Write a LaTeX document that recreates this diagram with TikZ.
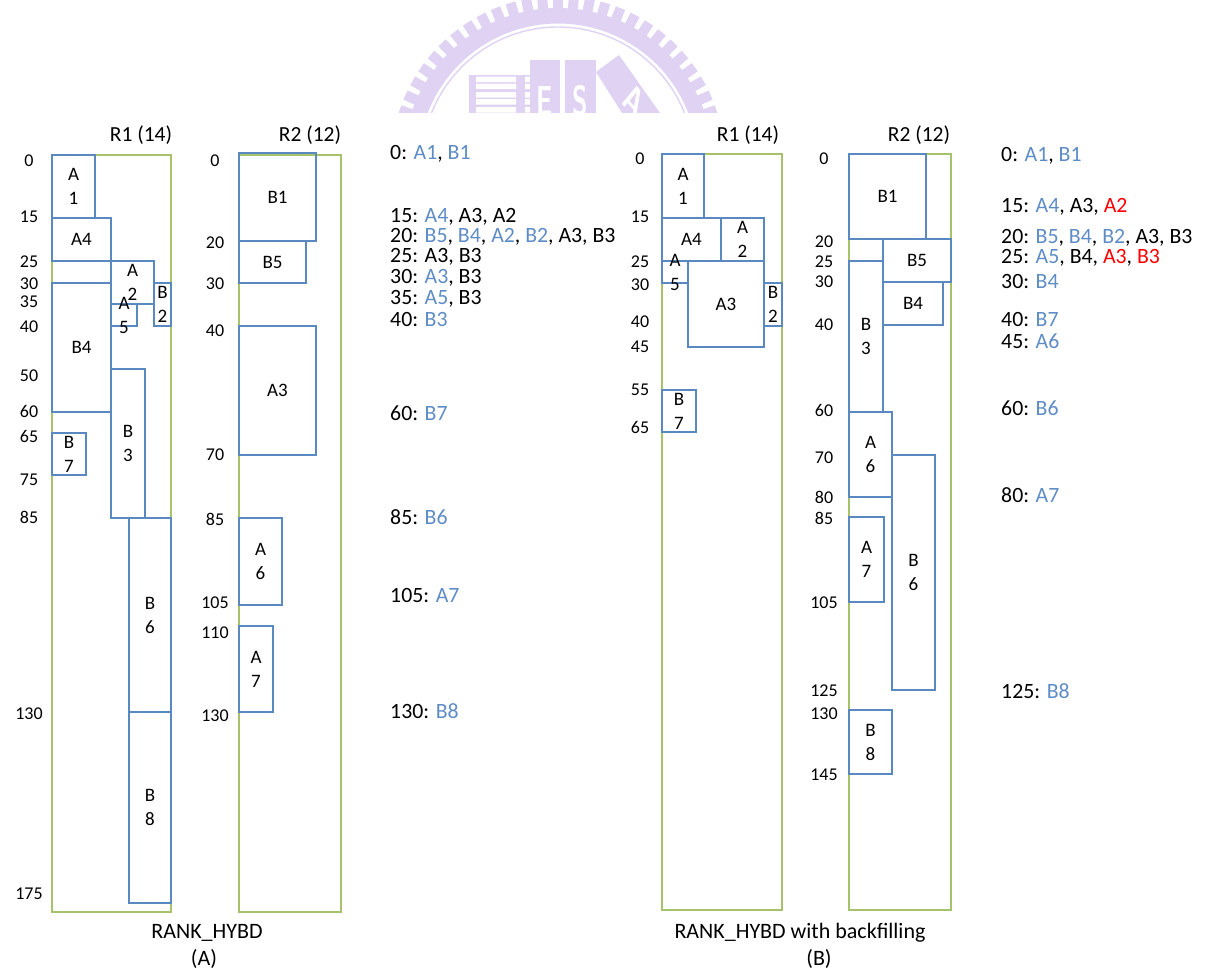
\documentclass[tikz,border=0pt]{standalone}
\usepackage{fontspec}
\setmainfont{Carlito}
\definecolor{jobblue}{HTML}{5A89C2}
\definecolor{textblue}{HTML}{5F8CC6}
\definecolor{hostgreen}{HTML}{A6C36B}
\definecolor{stamp}{HTML}{DFD2F3}
\newcommand{\done}[1]{\textcolor{textblue}{#1}}
\newcommand{\moved}[1]{\textcolor{red}{#1}}
\begin{document}
\begin{tikzpicture}[x=1pt, y=-1pt, host/.style={draw=hostgreen, line width=1.1pt, anchor=north west, inner sep=0, outer sep=0, minimum width=#1}, host/.default=102, job/.style={draw=jobblue, line width=1.1pt, anchor=north west, inner sep=0, outer sep=0, align=center, font=\fontsize{19}{24}\selectfont}, tick/.style={font=\fontsize{18}{20}\selectfont, inner sep=0}, title/.style={font=\fontsize{21.5}{24}\selectfont, inner sep=0}, queue/.style={anchor=west, font=\fontsize{21.8}{22}\selectfont, inner sep=0, yshift=-1pt}, caption/.style={font=\fontsize{22}{24}\selectfont, inner sep=0, yshift=-1.5pt}, letter/.style={text=white, font=\fontsize{42}{42}\selectfont\bfseries\sffamily, inner sep=0, transform shape, xscale=0.6}]

	\useasboundingbox (0,0) rectangle (1208,978);

	\begin{scope}
		\clip (380,0) rectangle (740,112.5);

		\draw[stamp, line width=15.5pt] (558,163) circle (147.25);

		\draw[stamp, line width=1.4pt] (558,163) circle (136);

		\foreach \a in {2,7.5,...,178}
			\draw[stamp, line width=10pt] ({558+150*cos(\a)},{163-150*sin(\a)}) -- ({558+167*cos(\a)},{163-167*sin(\a)});

		\fill[stamp] (469,75) rectangle (530,113);

		\foreach \y in {76.5,83.5,92,99,107}
			\fill[white] (476,\y) rectangle (516,\y+5.5) (525,\y) rectangle (530,\y+5.5);

		\fill[stamp] (530,60) rectangle (560,113);

		\fill[stamp] (565,60) rectangle (596,113);

		\fill[stamp] (596,72) -- (619,55) -- (660,113) -- (622,113) -- cycle;

		\node[letter, anchor=center] (stampe) at (545,101) {E};

		\node[letter, anchor=center] (stamps) at (580,101) {S};

		\node[letter, rotate=-35] (stampa) at (634,100) {A};
	\end{scope}

	\node[title] (r1a) at (141,135) {R1 (14)};

	\node[title] (r2a) at (310,135) {R2 (12)};

	\node[title] (r1b) at (748,135) {R1 (14)};

	\node[title] (r2b) at (919,135) {R2 (12)};

	\node[host=119, minimum height=757] (hosta1) at (52,155) {};

	\node[host, minimum height=757] (hosta2) at (239,155) {};

	\node[host=120, minimum height=756] (hostb1) at (662,154) {};

	\node[host, minimum height=756] (hostb2) at (849,154) {};

	\node[job, minimum width=43, minimum height=63] (a1) at (52,155) {A\\1};

	\node[job, minimum width=59, minimum height=43] (a4) at (52,218) {A4};

	\node[job, minimum width=43, minimum height=43] (a2) at (111,261) {A\\2};

	\node[job, minimum width=26, minimum height=22, label={[job, draw=none, anchor=center]center:{A\\5}}] (a5) at (111,304) {};

	\node[job, minimum width=17, minimum height=43] (b2) at (154,283) {B\\2};

	\node[job, minimum width=59, minimum height=129] (b4) at (52,283) {B4};

	\node[job, minimum width=34, minimum height=149] (b3) at (111,369) {B\\3};

	\node[job, minimum width=34, minimum height=42] (b7) at (52,433) {B\\7};

	\node[job, minimum width=42, minimum height=194] (b6) at (129,518) {B\\6};

	\node[job, minimum width=42, minimum height=191] (b8) at (129,712) {B\\8};

	\node[job, minimum width=77, minimum height=88] (b1) at (239,153) {B1};

	\node[job, minimum width=67, minimum height=42] (b5) at (239,241) {B5};

	\node[job, minimum width=77, minimum height=129] (a3) at (239,326) {A3};

	\node[job, minimum width=43, minimum height=87] (a6) at (239,518) {A\\6};

	\node[job, minimum width=34, minimum height=86] (a7) at (239,626) {A\\7};

	\node[job, minimum width=42, minimum height=64] (ba1) at (662,154) {A\\1};

	\node[job, minimum width=59, minimum height=43] (ba4) at (662,218) {A4};

	\node[job, minimum width=43, minimum height=43] (ba2) at (721,218) {A\\2};

	\node[job, minimum width=26, minimum height=22, label={[job, draw=none, anchor=center]center:{A\\5}}] (ba5) at (662,261) {};

	\node[job, minimum width=76, minimum height=86] (ba3) at (688,261) {A3};

	\node[job, minimum width=18, minimum height=43] (bb2) at (764,283) {B\\2};

	\node[job, minimum width=34, minimum height=42] (bb7) at (662,390) {B\\7};

	\node[job, minimum width=77, minimum height=85] (bb1) at (849,154) {B1};

	\node[job, minimum width=68, minimum height=43] (bb5) at (883,239) {B5};

	\node[job, minimum width=34, minimum height=151] (bb3) at (849,261) {B\\3};

	\node[job, minimum width=60, minimum height=43] (bb4) at (883,282) {B4};

	\node[job, minimum width=43, minimum height=85] (ba6) at (849,412) {A\\6};

	\node[job, minimum width=43, minimum height=235] (bb6) at (892,455) {B\\6};

	\node[job, minimum width=35, minimum height=85] (ba7) at (849,517) {A\\7};

	\node[job, minimum width=43, minimum height=64] (bb8) at (849,710) {B\\8};

	\foreach \t/\y in {0/160.5,15/216.5,25/261.5,30/283.5,35/301.5,40/326.5,50/375.5,60/411.5,65/436.5,75/479.5,85/517.5,130/713.5,175/893.5}
		\node[tick] (ta\t) at (29,\y) {\t};

	\foreach \t/\y in {0/160.5,20/242.5,30/283.5,40/330.5,70/454.5,85/519.5,105/602.5,110/632.5,130/715.5}
		\node[tick] (tb\t) at (215,\y) {\t};

	\foreach \t/\y in {0/158.5,15/216.5,25/261.5,30/284.5,40/321.5,45/346.5,55/389.5,65/427.5}
		\node[tick] (tc\t) at (640,\y) {\t};

	\foreach \t/\y in {0/158.5,20/241.5,25/261.5,30/281.5,40/324.5,60/410.5,70/457.5,80/497.5,85/518.5,105/602.5,125/690.5,130/713.5,145/774.5}
		\node[tick] (td\t) at (824,\y) {\t};

	\node[queue] (qa0) at (390,153) {0: \done{A1}, \done{B1}};

	\node[queue] (qa15) at (390,216) {15: \done{A4}, A3,~A2};

	\node[queue] (qa20) at (390,236) {20: \done{B5}, \done{B4}, \done{A2}, \done{B2}, A3, B3};

	\node[queue] (qa25) at (390,256) {25: A3, B3};

	\node[queue] (qa30) at (390,277) {30: \done{A3}, B3};

	\node[queue] (qa35) at (390,298) {35: \done{A5}, B3};

	\node[queue] (qa40) at (390,319) {40: \done{B3}};

	\node[queue] (qa60) at (390,412) {60: \done{B7}};

	\node[queue] (qa85) at (390,516) {85: \done{B6}};

	\node[queue] (qa105) at (390,595) {105: \done{A7}};

	\node[queue] (qa130) at (390,710) {130: \done{B8}};

	\node[queue] (qb0) at (1001,155) {0: \done{A1}, \done{B1}};

	\node[queue] (qb15) at (1001,206) {15: \done{A4}, A3,~\moved{A2}};

	\node[queue] (qb20) at (1001,237) {20: \done{B5}, \done{B4}, \done{B2}, A3, B3};

	\node[queue] (qb25) at (1001,257) {25: \done{A5}, B4, \moved{A3}, \moved{B3}};

	\node[queue] (qb30) at (1001,281) {30: \done{B4}};

	\node[queue] (qb40) at (1001,319) {40: \done{B7}};

	\node[queue] (qb45) at (1001,340) {45: \done{A6}};

	\node[queue] (qb60) at (1001,407) {60: \done{B6}};

	\node[queue] (qb80) at (1001,494) {80: \done{A7}};

	\node[queue] (qb125) at (1001,690) {125: \done{B8}};

	\node[caption] (capa) at (207,931) {RANK\_HYBD};

	\node[caption] (capa2) at (204,957) {(A)};

	\node[caption] (capb) at (800,931) {RANK\_HYBD with backfilling};

	\node[caption] (capb2) at (819,957) {(B)};

\end{tikzpicture}
\end{document}
